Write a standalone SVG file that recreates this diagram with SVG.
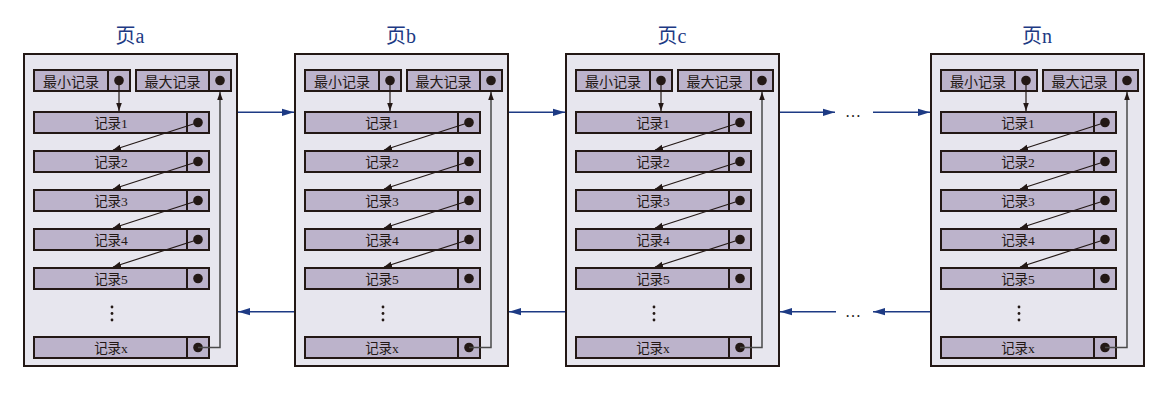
<svg xmlns="http://www.w3.org/2000/svg" width="1161" height="402" viewBox="0 0 1161 402">
<defs>
<marker id="ab" viewBox="0 0 10 10" refX="10" refY="5" markerWidth="8" markerHeight="8" markerUnits="userSpaceOnUse" orient="auto"><path d="M0,1.5 L10,5 L0,8.5 z" fill="#231815"/></marker>
<marker id="ablue" viewBox="0 0 10 10" refX="10" refY="5" markerWidth="12" markerHeight="12" markerUnits="userSpaceOnUse" orient="auto"><path d="M0,2 L10,5 L0,8 z" fill="#1d3a84"/></marker>
<style>
.page{fill:#e7e6ee;stroke:#231815;stroke-width:2}
.rec{fill:#bcb3cb;stroke:#231815;stroke-width:2}
.div{stroke:#231815;stroke-width:2}
.dot{fill:#231815}
.ptr{fill:none;stroke:#231815;stroke-width:1.2;marker-end:url(#ab)}
.maxp{fill:none;stroke:#4a4a4a;stroke-width:1.5;marker-end:url(#ab)}
.t{font-family:"Liberation Serif","Noto Sans CJK SC",serif;font-size:13.5px;fill:#231815;text-anchor:middle}
.h{font-family:"Liberation Serif","Noto Sans CJK SC",serif;font-size:14px;fill:#231815;text-anchor:middle}
.title{font-family:"Liberation Serif","Noto Sans CJK SC",serif;font-size:20px;fill:#1d3a84;text-anchor:middle}
.blue{fill:none;stroke:#1d3a84;stroke-width:1.5;marker-end:url(#ablue)}
.ell{font-family:"Liberation Serif",serif;font-size:16px;fill:#231815;text-anchor:middle}
</style>
<g id="pagetpl">
<rect class="page" x="0" y="0" width="213" height="312"/>
<rect class="rec" x="10" y="16" width="96" height="21"/><line class="div" x1="84" y1="16" x2="84" y2="37"/><circle class="dot" cx="95" cy="26.5" r="4.8"/>
<text class="h" x="47" y="32.5">最小记录</text>
<rect class="rec" x="112" y="16" width="95" height="21"/><line class="div" x1="185" y1="16" x2="185" y2="37"/><circle class="dot" cx="196" cy="26.5" r="4.8"/>
<text class="h" x="148.5" y="32.5">最大记录</text>
<rect class="rec" x="10" y="58" width="175" height="21"/><line class="div" x1="163" y1="58" x2="163" y2="79"/><circle class="dot" cx="174" cy="68.5" r="4.8"/><text class="t" x="87" y="74">记录1</text>
<rect class="rec" x="10" y="97" width="175" height="21"/><line class="div" x1="163" y1="97" x2="163" y2="118"/><circle class="dot" cx="174" cy="107.5" r="4.8"/><text class="t" x="87" y="113">记录2</text>
<rect class="rec" x="10" y="136" width="175" height="21"/><line class="div" x1="163" y1="136" x2="163" y2="157"/><circle class="dot" cx="174" cy="146.5" r="4.8"/><text class="t" x="87" y="152">记录3</text>
<rect class="rec" x="10" y="175" width="175" height="21"/><line class="div" x1="163" y1="175" x2="163" y2="196"/><circle class="dot" cx="174" cy="185.5" r="4.8"/><text class="t" x="87" y="191">记录4</text>
<rect class="rec" x="10" y="214" width="175" height="21"/><line class="div" x1="163" y1="214" x2="163" y2="235"/><circle class="dot" cx="174" cy="224.5" r="4.8"/><text class="t" x="87" y="230">记录5</text>
<circle class="dot" cx="88" cy="253" r="1.4"/><circle class="dot" cx="88" cy="259.5" r="1.4"/><circle class="dot" cx="88" cy="266" r="1.4"/>
<rect class="rec" x="10" y="283" width="175" height="21"/><line class="div" x1="163" y1="283" x2="163" y2="304"/><circle class="dot" cx="174" cy="293.5" r="4.8"/><text class="t" x="87" y="299">记录x</text>
<path class="ptr" d="M95,26.5 V57"/>
<path class="ptr" d="M174,68.5 L89,96"/>
<path class="ptr" d="M174,107.5 L89,135"/>
<path class="ptr" d="M174,146.5 L89,174"/>
<path class="ptr" d="M174,185.5 L89,213"/>
<path class="maxp" d="M174,293.5 H196 V38"/>
</g>
</defs>
<g id="page-a"><text class="title" x="130" y="43">页a</text><use href="#pagetpl" transform="translate(24,54)"/></g>
<g id="page-b"><text class="title" x="401" y="43">页b</text><use href="#pagetpl" transform="translate(295,54)"/></g>
<g id="page-c"><text class="title" x="672" y="43">页c</text><use href="#pagetpl" transform="translate(566,54)"/></g>
<g id="page-n"><text class="title" x="1037" y="43">页n</text><use href="#pagetpl" transform="translate(931,54)"/></g>
<g id="connectors">
<line class="blue" x1="238" y1="112.3" x2="294" y2="112.3"/>
<line class="blue" x1="509" y1="112.3" x2="565" y2="112.3"/>
<line class="blue" x1="780" y1="112.3" x2="835" y2="112.3"/>
<line class="blue" x1="873" y1="112.3" x2="930" y2="112.3"/>
<line class="blue" x1="294" y1="311.7" x2="238" y2="311.7"/>
<line class="blue" x1="565" y1="311.7" x2="509" y2="311.7"/>
<line class="blue" x1="930" y1="311.7" x2="873" y2="311.7"/>
<line class="blue" x1="836" y1="311.7" x2="780" y2="311.7"/>
<text class="ell" x="853" y="117">…</text>
<text class="ell" x="853" y="316.5">…</text>
</g>
</svg>
